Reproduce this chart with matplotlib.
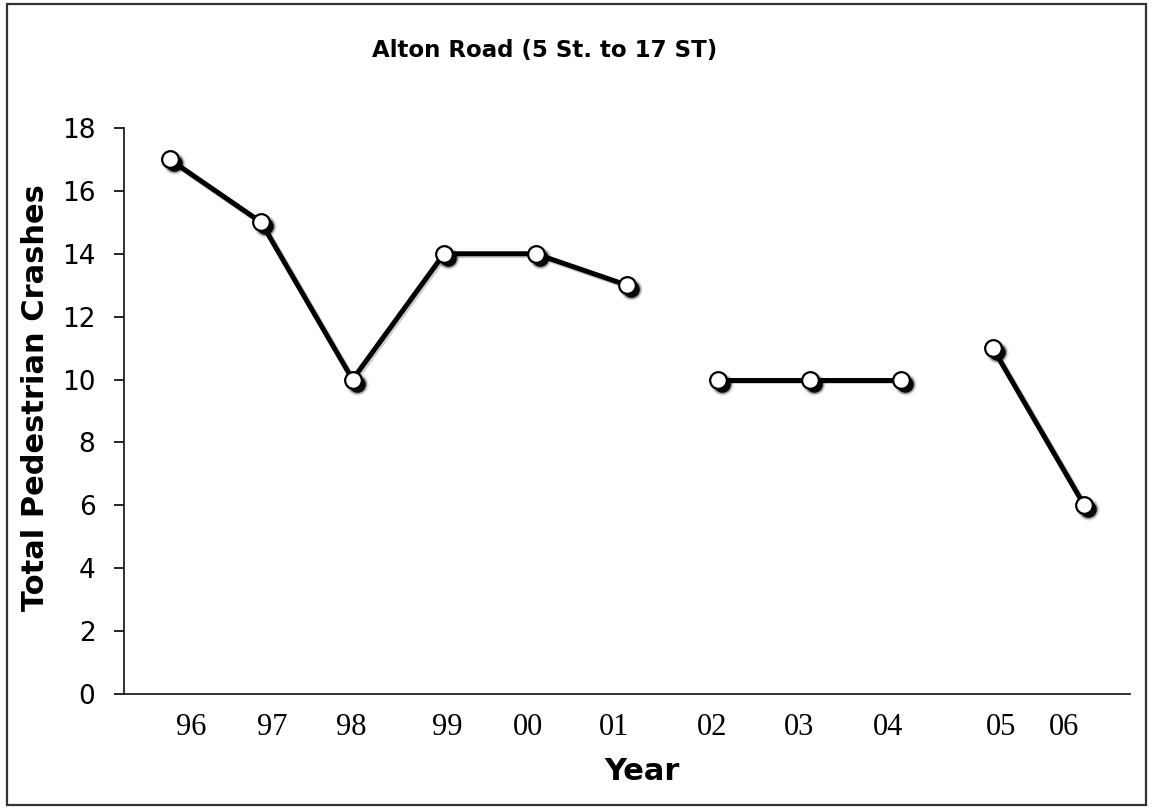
import numpy as np
import matplotlib.pyplot as plt
import matplotlib.transforms as mtransforms
from matplotlib.patches import Rectangle

# data
years = ['96', '97', '98', '99', '00', '01', '02', '03', '04', '05', '06']
crashes = [17, 15, 10, 14, 14, 13, 10, 10, 10, 11, 6]
# runs of connected years (the line breaks between 01-02 and 04-05)
segments = [[0, 1, 2, 3, 4, 5], [6, 7, 8], [9, 10]]

# hand placed year labels (offset from the category centre)
label_shift = [0.24, 0.12, -0.01, 0.04, -0.08, -0.14, -0.07, -0.12, -0.15, 0.09, -0.22]

fig = plt.figure(figsize=(11.52, 8.09), dpi=100)
ax = fig.add_axes([0.1076, 0.1422, 0.8733, 0.6996])

x = np.arange(len(years))
y = np.array(crashes, dtype=float)

# soft drop shadow under the markers
for sz, a in [(16, 0.12), (14, 0.3), (12, 0.95)]:
    sh = mtransforms.offset_copy(ax.transData, fig=fig, x=4, y=-4, units='dots')
    ax.plot(x, y, ls='none', marker='o', ms=sz, mfc='black', mec='none',
            alpha=a, transform=sh, zorder=2)

for seg in segments:
    sh = mtransforms.offset_copy(ax.transData, fig=fig, x=1.5, y=-1.5, units='dots')
    ax.plot(x[seg], y[seg], color='black', lw=4.2, alpha=0.2, transform=sh,
            solid_capstyle='round', zorder=2)
    ax.plot(x[seg], y[seg], color='black', lw=3.6, solid_capstyle='round', zorder=3)

ax.plot(x, y, ls='none', marker='o', ms=12, mfc='white', mec='black',
        mew=1.6, zorder=4)

ax.set_xlim(-0.5, len(years) - 0.5)
ax.set_ylim(0, 18)
ax.set_yticks(np.arange(0, 19, 2))
ax.tick_params(axis='y', direction='out', length=7.5, width=1.2, pad=13,
               labelsize=19, colors='black')
ax.set_xticks(x + np.array(label_shift))
ax.set_xticklabels(years, fontfamily='Liberation Serif', fontsize=22)
ax.tick_params(axis='x', length=0, pad=14)

for s in ['top', 'right']:
    ax.spines[s].set_visible(False)
for s in ['left', 'bottom']:
    ax.spines[s].set_linewidth(1.3)
    ax.spines[s].set_color('#222222')

fig.text(0.473, 0.9295, 'Alton Road (5 St. to 17 ST)', ha='center', va='baseline',
         fontsize=16.5, fontweight='bold')
fig.text(0.557, 0.0358, 'Year', ha='center', va='baseline',
         fontsize=22, fontweight='bold')
fig.text(0.031, 0.509, 'Total Pedestrian Crashes', ha='center', va='center',
         rotation=90, fontsize=22, fontweight='bold')

# frame round the whole chart
fig.patches.append(Rectangle((0.006, 0.005), 0.989, 0.99, transform=fig.transFigure,
                             fill=False, edgecolor='#333333', lw=1.6))

fig.savefig('out.png', dpi=100)
